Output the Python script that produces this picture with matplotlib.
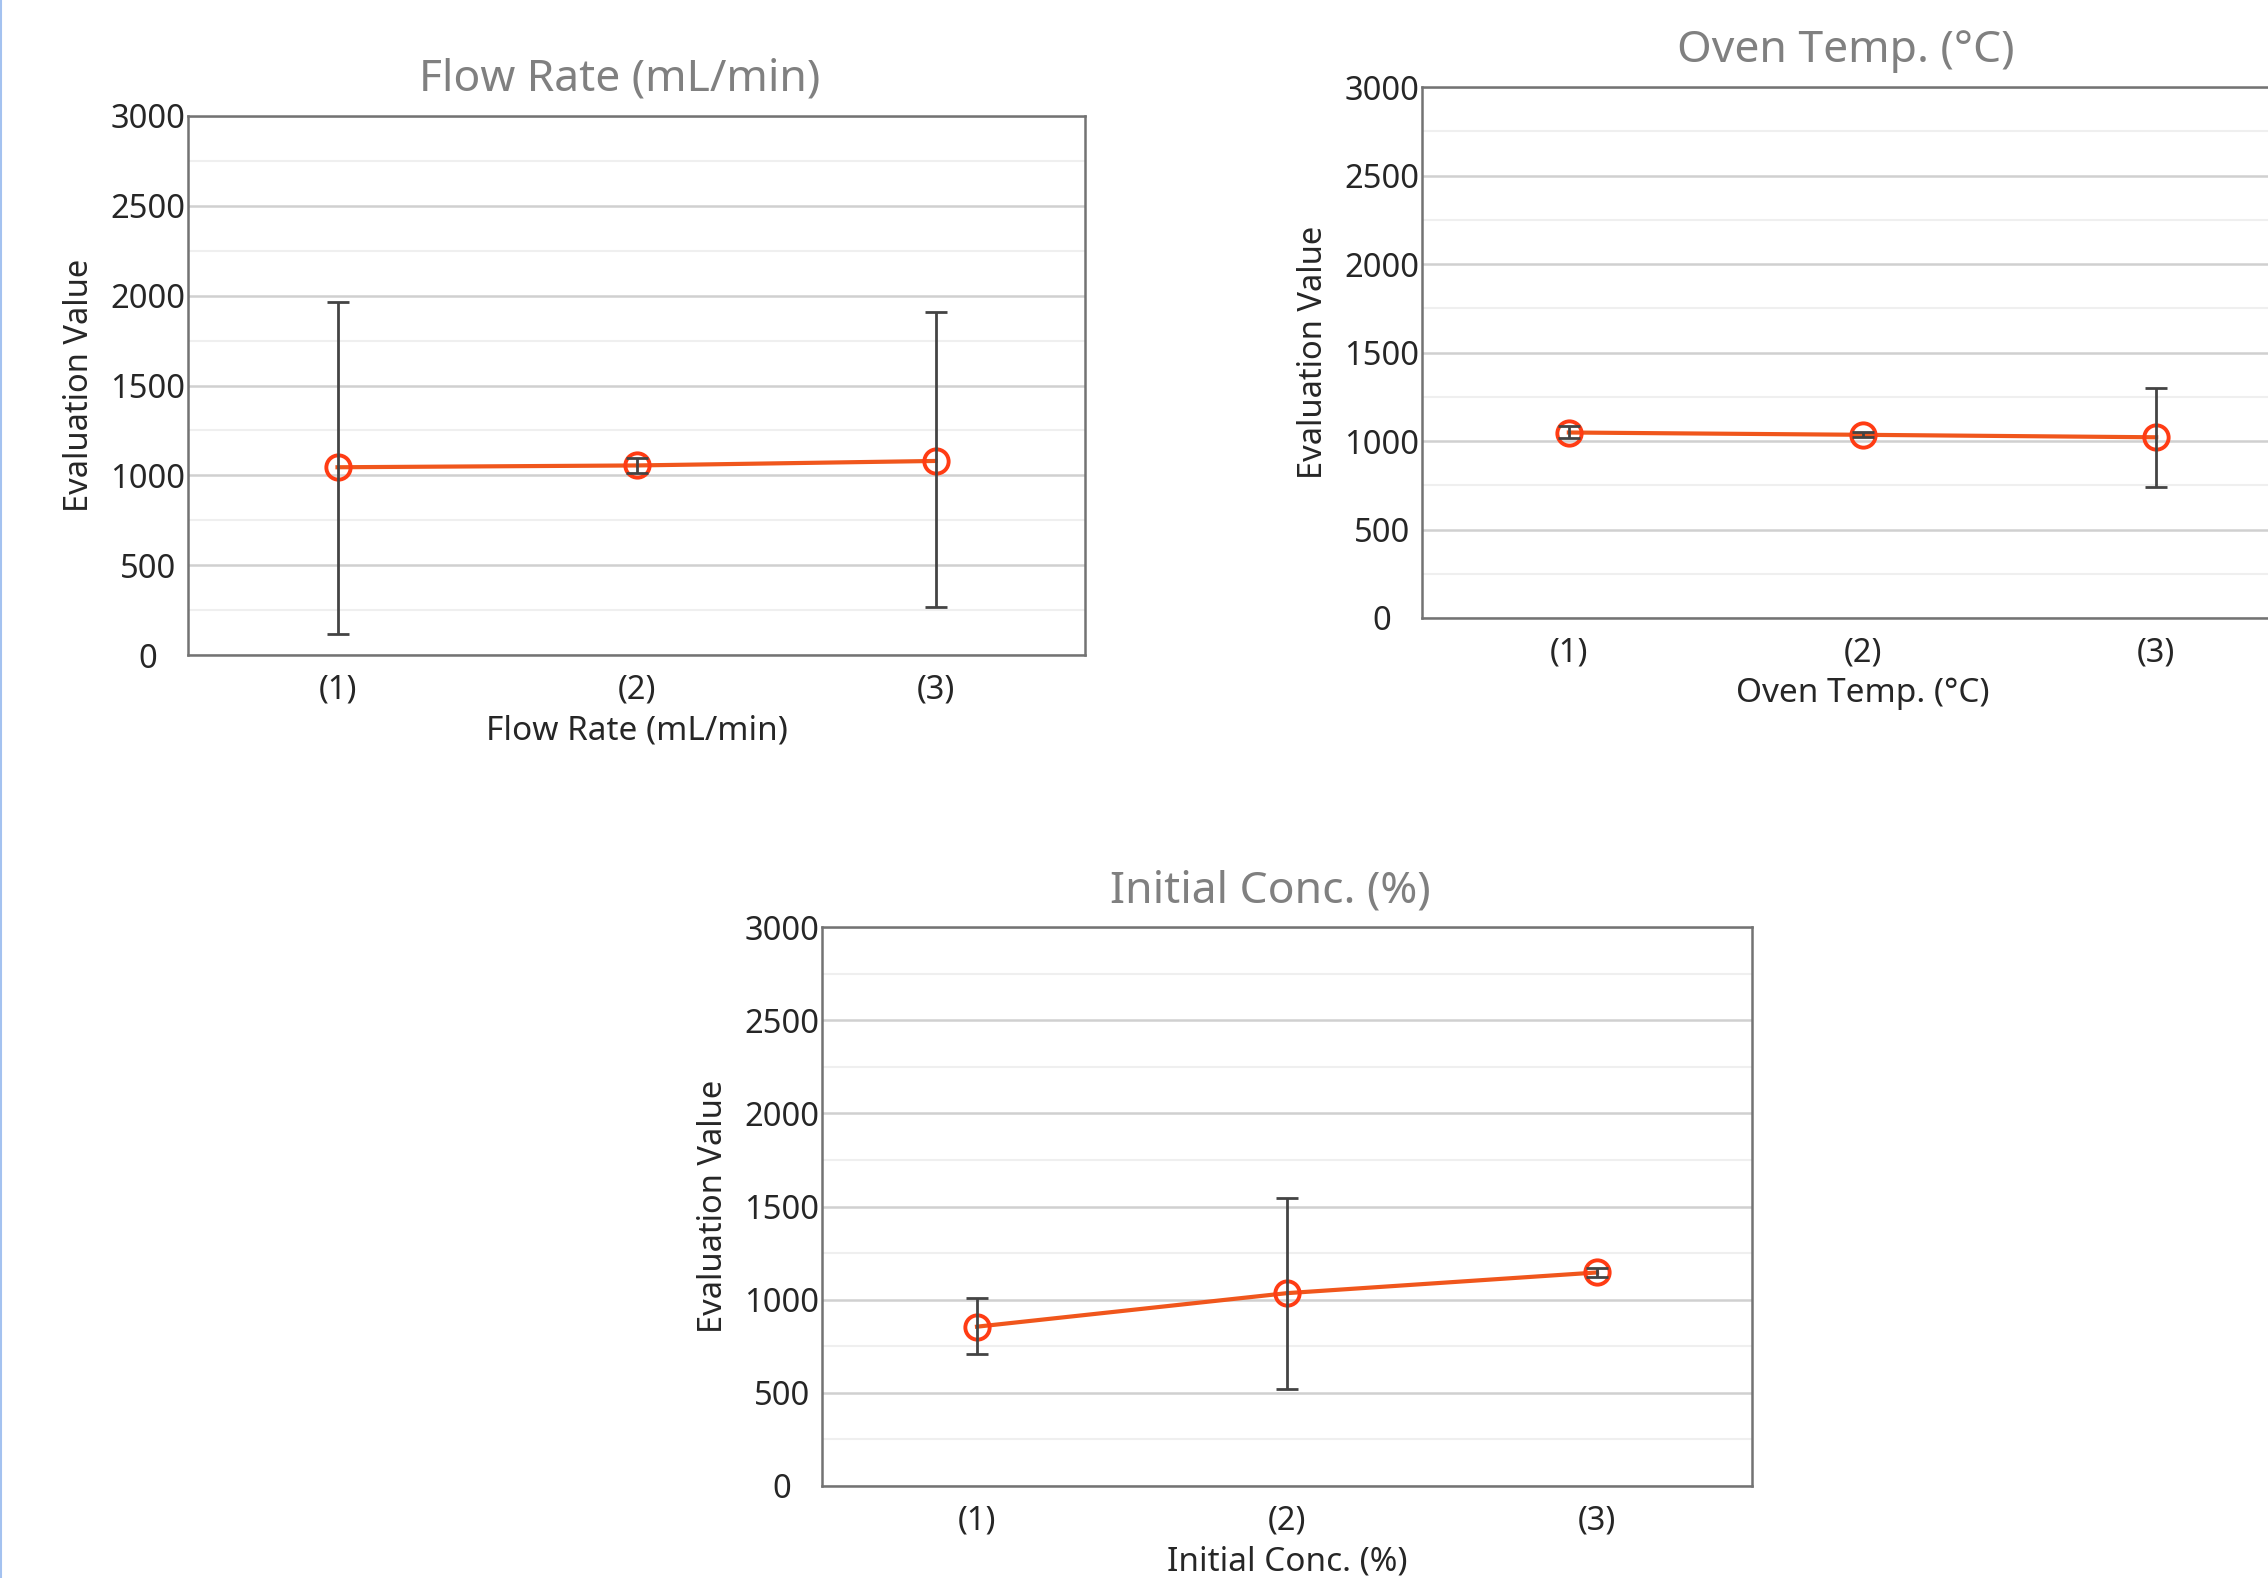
import numpy as np
import matplotlib.pyplot as plt
from matplotlib.lines import Line2D

plt.rcParams['font.family'] = ['Noto Sans', 'DejaVu Sans']

# data
levels = ['(1)', '(2)', '(3)']

flow_mean = [1045, 1055, 1080]
flow_low = [118, 1015, 265]
flow_high = [1962, 1095, 1907]

oven_mean = [1048, 1035, 1021]
oven_low = [1015, 1020, 741]
oven_high = [1082, 1050, 1301]

conc_mean = [855, 1035, 1146]
conc_low = [707, 522, 1120]
conc_high = [1009, 1544, 1172]

titles = ['Flow Rate (mL/min)', 'Oven Temp. (°C)', 'Initial Conc. (%)']

W, H = 2268, 1578
fig = plt.figure(figsize=(W / 100, H / 100), dpi=100)

# axes boxes in pixels: left, top, right, bottom
boxes = [(188, 116, 1085, 655),
         (1422, 87, 2303, 618),
         (822, 927, 1752, 1486)]


def panel(box, title, mean, low, high):
    l, t, r, b = box
    ax = fig.add_axes([l / W, 1 - b / H, (r - l) / W, (b - t) / H])
    x = np.arange(1, len(levels) + 1)
    mean = np.array(mean)
    err = [mean - np.array(low), np.array(high) - mean]

    ax.set_xlim(0.5, 3.5)
    ax.set_ylim(0, 3000)
    ax.set_yticks(np.arange(0, 3001, 500))
    ax.set_yticks(np.arange(250, 3000, 500), minor=True)
    ax.grid(axis='y', which='major', color='#d0d0d0', lw=1.8)
    ax.grid(axis='y', which='minor', color='#efefef', lw=1.5)
    ax.set_axisbelow(True)

    ax.plot(x, mean, color='#f0561c', lw=3.0, zorder=3)
    ax.plot(x, mean, 'o', ms=17.5, mfc='none', mec='#ff3c14', mew=2.8, zorder=4)
    ax.errorbar(x, mean, yerr=err, fmt='none', ecolor='#444444', elinewidth=2.0,
                capsize=8, capthick=2.0, zorder=5)

    ax.set_xticks(x)
    ax.set_xticklabels(levels)
    ax.tick_params(axis='both', which='both', length=0, labelsize=23.5,
                   colors='#262626')
    ax.tick_params(axis='x', pad=13)
    ax.tick_params(axis='y', pad=29)
    for lab in ax.get_yticklabels():
        lab.set_horizontalalignment('center')

    for s in ax.spines.values():
        s.set_color('#737373')
        s.set_linewidth(1.8)

    ax.set_ylabel('Evaluation Value', fontsize=23.5, color='#262626', labelpad=10)
    ax.set_xlabel(title, fontsize=24, color='#262626', labelpad=6)
    off = 17 / (r - l)
    ax.text(0.5 - off, 1 + 36 / (b - t), title, transform=ax.transAxes,
            ha='center', va='center', fontsize=32, color='#808080')
    return ax


panel(boxes[0], titles[0], flow_mean, flow_low, flow_high)
panel(boxes[1], titles[1], oven_mean, oven_low, oven_high)
panel(boxes[2], titles[2], conc_mean, conc_low, conc_high)

# thin blue border on the left edge
fig.add_artist(Line2D([0.0004, 0.0004], [0, 1], transform=fig.transFigure,
                      color='#a4c2f0', lw=1.5))

fig.savefig('out.png', dpi=100, facecolor='white')
